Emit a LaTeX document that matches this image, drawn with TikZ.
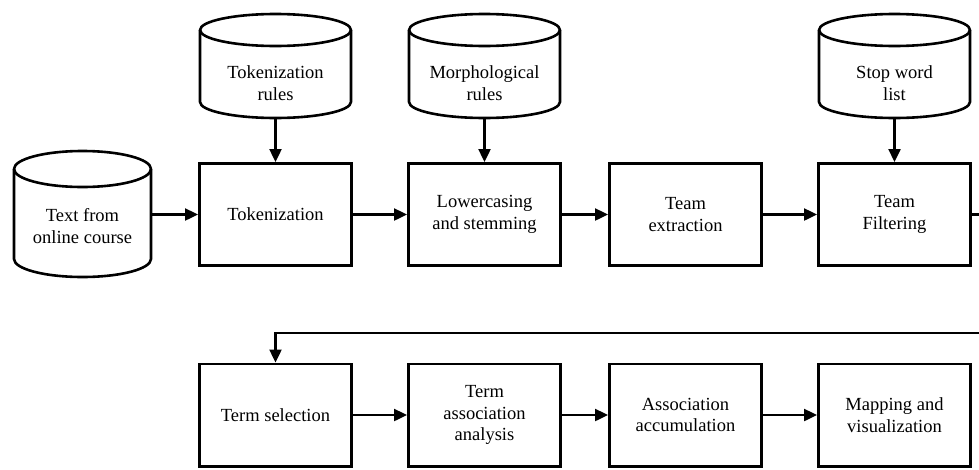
\documentclass[tikz,border=0pt]{standalone}
\usepackage{fontspec}
\setmainfont{Liberation Serif}
\usetikzlibrary{arrows.meta}
% #1 name, #2 left, #3 right, #4 top, #5 bottom, #6 ry, #7 text y, #8 text
\newcommand{\dbcyl}[8]{%
  \pgfmathsetmacro\cylrx{(#3-#2)/2}%
  \pgfmathsetmacro\cylcx{(#3+#2)/2}%
  \draw[cylline] (#2,#4+#6) -- (#2,#5-#6)
     arc[start angle=180,end angle=360,x radius=\cylrx pt,y radius=#6pt]
     -- (#3,#4+#6);
  \draw[cylline] (\cylcx,#4+#6) ellipse[x radius=\cylrx pt,y radius=#6pt];
  \node[lbl] (#1) at (\cylcx,#7) {#8};
  \coordinate (#1-b) at (\cylcx,#5);
}
\begin{document}
\begin{tikzpicture}[x=1pt,y=-1pt,
  txt/.style={font=\fontsize{18.5}{21.5}\selectfont},
  box/.style={draw, line width=2.6pt, minimum width=152.4pt, minimum height=102.4pt,
              align=center, inner sep=0pt, txt},
  lbl/.style={align=center, inner sep=0pt, txt},
  cylline/.style={line width=2.6pt, line join=round},
  conn/.style={line width=2.4pt, -{Triangle[length=13pt,width=12pt]}},
  plain/.style={line width=2.4pt}]
\useasboundingbox (0,0) rectangle (979,469);

% top row boxes
\node[box] (tok)  at (275.5,214.5) {Tokenization};
\node[box] (low)  at (484.5,214.5) {Lowercasing\\and stemming};
\node[box] (ext)  at (685.5,214.5) {Team\\extraction};
\node[box] (filt) at (894.5,214.5) {Team\\Filtering};

% bottom row boxes
\node[box] (sel)   at (275.5,415) {Term selection};
\node[box] (assoc) at (484.5,415) {Term\\association\\analysis};
\node[box] (accum) at (685.5,415) {Association\\accumulation};
\node[box] (map)   at (894.5,415) {Mapping and\\visualization};

% cylinders
\dbcyl{src}{14}{151}{151}{277}{18}{226}{Text from\\online course}
\dbcyl{tokr}{200}{351}{14}{118}{16}{83}{Tokenization\\rules}
\dbcyl{morr}{409}{560}{14}{118}{16}{83}{Morphological\\rules}
\dbcyl{stopr}{819}{970}{14}{118}{16}{83}{Stop word\\list}

% connector end points
\coordinate (srcE) at (151,214.5);
\coordinate (e1) at (979,214.5);
\coordinate (e2) at (979,333);

% connectors
\draw[conn] (srcE) -- (tok.west);
\draw[conn] (tokr-b) -- (tok.north);
\draw[conn] (morr-b) -- (low.north);
\draw[conn] (stopr-b) -- (filt.north);
\draw[conn] (tok) -- (low);
\draw[conn] (low) -- (ext);
\draw[conn] (ext) -- (filt);
\draw[plain] (filt.east) -- (e1);
\draw[conn] (e2) -| (sel.north);
\draw[conn] (sel) -- (assoc);
\draw[conn] (assoc) -- (accum);
\draw[conn] (accum) -- (map);
\end{tikzpicture}
\end{document}
